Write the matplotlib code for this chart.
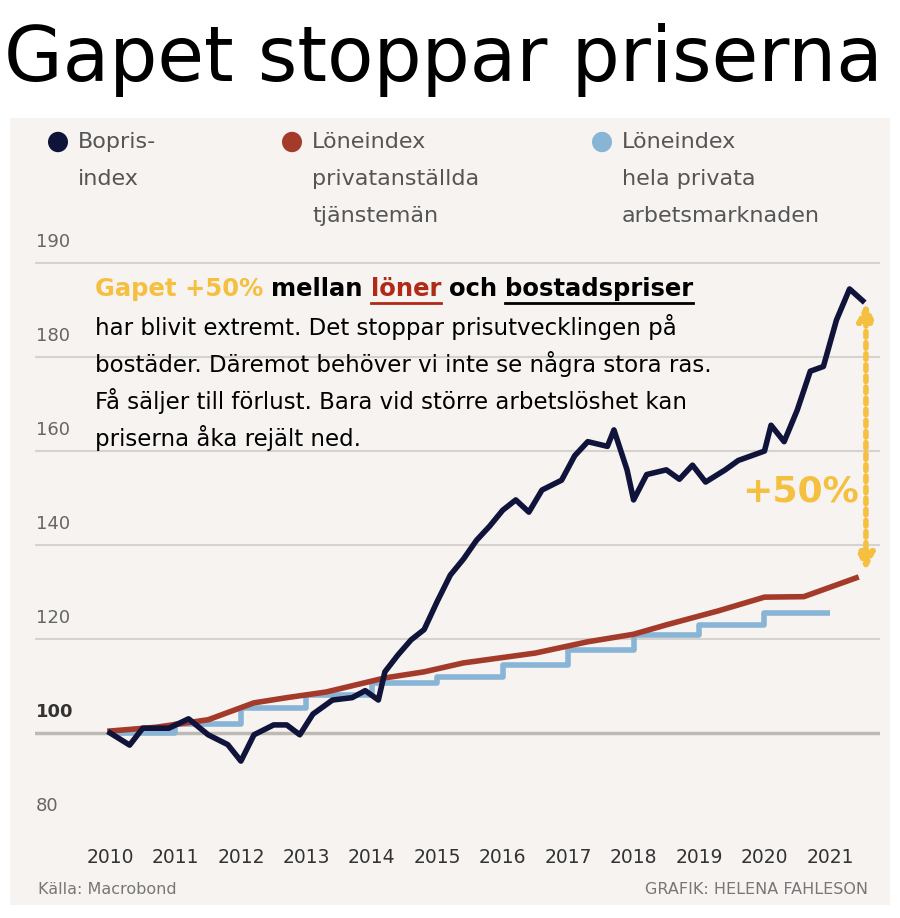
import numpy as np, matplotlib
matplotlib.use("Agg")
import matplotlib.pyplot as plt
from matplotlib.lines import Line2D

# data
bo_x = [2010.0, 2010.3, 2010.5, 2010.9, 2011.2, 2011.5, 2011.8, 2012.0, 2012.2, 2012.5, 2012.7, 2012.9,
        2013.1, 2013.4, 2013.7, 2013.9, 2014.1, 2014.2, 2014.4, 2014.6, 2014.8, 2015.0, 2015.2, 2015.4,
        2015.6, 2015.8, 2016.0, 2016.2, 2016.4, 2016.6, 2016.9, 2017.1, 2017.3, 2017.6, 2017.7, 2017.9,
        2018.0, 2018.2, 2018.5, 2018.7, 2018.9, 2019.1, 2019.4, 2019.6, 2019.8, 2020.0, 2020.1, 2020.3,
        2020.5, 2020.7, 2020.9, 2021.1, 2021.3, 2021.5]
bo_y = [100, 97.4, 101, 101, 103, 99.6, 97.5, 94, 99.6, 101.7, 101.7, 99.6,
        104, 107, 107.5, 109, 107, 113, 116.6, 119.8, 122, 128, 133.6, 137,
        141, 144, 147.4, 149.6, 147, 151.7, 153.8, 159, 162, 161, 164.5, 156,
        149.6, 155, 156, 154, 157, 153.4, 156, 158, 159, 160, 165.5, 162,
        168.7, 177, 178, 187.9, 194.5, 192]
red_x = [2010.0, 2010.7, 2011.5, 2012.2, 2012.7, 2013.3, 2014.2, 2014.8, 2015.4, 2016.5, 2017.3,
         2018.0, 2018.5, 2019.3, 2020.0, 2020.6, 2021.0, 2021.4]
red_y = [100.4, 101.2, 102.8, 106.4, 107.5, 108.7, 111.7, 113.0, 114.9, 117, 119.4,
         121.0, 123, 126, 128.9, 129, 131, 133]
blue_x = [2010.0, 2011.0, 2012.0, 2013.0, 2014.0, 2015.0, 2016.0, 2017.0, 2018.0, 2019.0, 2020.0, 2021.0]
blue_y = [100, 102, 105.3, 108, 110.6, 112, 114.5, 117.7, 120.9, 123, 125.5, 125.5]
years = list(range(2010, 2022))
grid_vals = [80, 100, 120, 140, 160, 180, 200]
grid_labels = ["80", "100", "120", "140", "160", "180", "190"]

W, H = 900, 918
fig = plt.figure(figsize=(9, 9.18), dpi=100)
fig.patch.set_facecolor("white")
bg = "#f7f3f0"
fig.patches.append(plt.Rectangle((10/W, 1-905/H), 880/W, (905-118)/H, transform=fig.transFigure,
                                 facecolor=bg, edgecolor="none", zorder=-5))

ax = fig.add_axes([35/W, 1-840/H, 845/W, 590/H], zorder=2)
ax.set_facecolor("none")
ax.set_xlim(2008.854, 2021.765)
ax.set_ylim(77.2, 202.8)
for s in ax.spines.values():
    s.set_visible(False)
ax.set_xticks([]); ax.set_yticks([])
for v, lab in zip(grid_vals, grid_labels):
    if v > 80:
        ax.axhline(v, color="#bdb9b5" if v == 100 else "#d6d2ce", lw=2.5 if v == 100 else 1.5, zorder=1)
    ax.text(2008.87, v + 2.5, lab, fontsize=13, color="#333" if v == 100 else "#666",
            fontweight="bold" if v == 100 else "normal", va="bottom", ha="left")
for yr in years:
    ax.text(yr, 73.5, str(yr), fontsize=13.5, color="#333", ha="center", va="center", clip_on=False)

ax.step(blue_x, blue_y, where="post", color="#88b4d6", lw=4, zorder=2, solid_capstyle="butt")
ax.plot(red_x, red_y, color="#a33a2a", lw=4, zorder=3)
ax.plot(bo_x, bo_y, color="#10133a", lw=4, zorder=4)

ax.annotate("", xy=(2021.55, 134.5), xytext=(2021.55, 191.5),
            arrowprops=dict(arrowstyle="<|-|>", color="#f5c040", lw=4, linestyle=(0, (1, 1)),
                            mutation_scale=25, shrinkA=0, shrinkB=0))
fig.text(800/W, 1-492/H, "+50%", fontsize=26, fontweight="bold", color="#f5c040", ha="center", va="center")

# legend
leg = [("#10133a", 78, ["Bopris-", "index"]),
       ("#a33a2a", 312, ["Löneindex", "privatanställda", "tjänstemän"]),
       ("#88b4d6", 622, ["Löneindex", "hela privata", "arbetsmarknaden"])]
for col, x0, lines in leg:
    fig.patches.append(plt.Circle(((x0-20)/W, 1-142/H), 10/W, transform=fig.transFigure,
                                  facecolor=col, edgecolor="none"))
    for i, t in enumerate(lines):
        fig.text(x0/W, 1-(142+37*i)/H, t, fontsize=16, color="#555", va="center", ha="left")

fig.text(38/W, 1-890/H, "Källa: Macrobond", fontsize=11.5, color="#777", va="center")
fig.text(868/W, 1-890/H, "GRAFIK: HELENA FAHLESON", fontsize=11.5, color="#777", va="center", ha="right")

title = fig.text(4/W, 1-60/H, "Gapet stoppar priserna", fontsize=80, color="black",
                 va="center", ha="left")
fig.canvas.draw()
r = fig.canvas.get_renderer()
bw = title.get_window_extent(r).width
title.set_fontsize(80 * 880 / bw)

# annotation text
body = ["har blivit extremt. Det stoppar prisutvecklingen på",
        "bostäder. Däremot behöver vi inte se några stora ras.",
        "Få säljer till förlust. Bara vid större arbetslöshet kan",
        "priserna åka rejält ned."]
for i, t in enumerate(body):
    fig.text(95/W, 1-(327+37*i)/H, t, fontsize=16.5, color="black", va="center", zorder=5)

parts = [("Gapet +50%", "#f5c040", False), ("mellan", "black", False), ("löner", "#b02a18", True),
         ("och", "black", False), ("bostadspriser", "black", True)]
x = 95
fig.canvas.draw()
for txt, col, ul in parts:
    t = fig.text(x/W, 1-289/H, txt, fontsize=17.5, fontweight="bold", color=col, va="center", zorder=5)
    fig.canvas.draw()
    bb = t.get_window_extent(r)
    if ul:
        fig.add_artist(Line2D([bb.x0/W, bb.x1/W], [(bb.y0-2)/H, (bb.y0-2)/H], transform=fig.transFigure,
                              color=col, lw=2))
    x = bb.x1 + 8

fig.savefig("out.png", dpi=100, facecolor="white")
